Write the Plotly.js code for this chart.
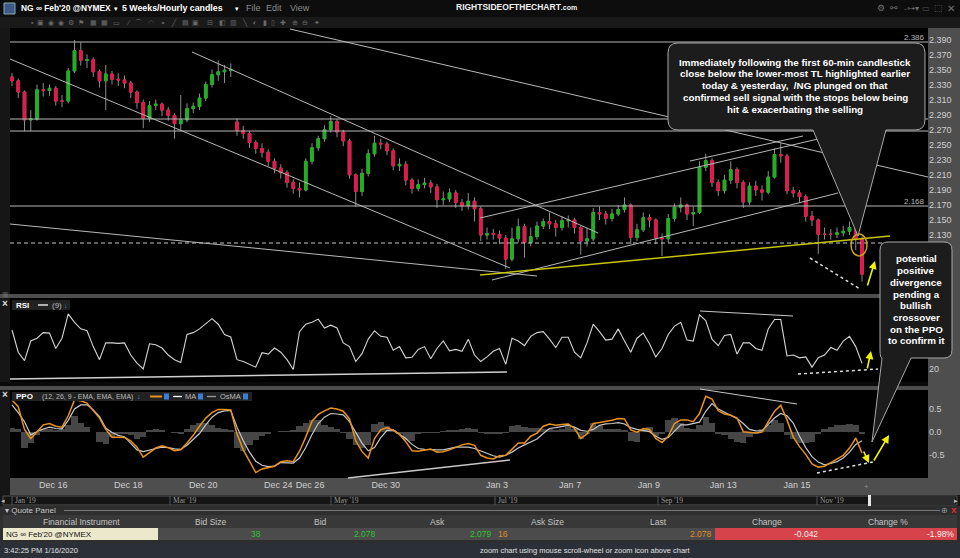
<!DOCTYPE html>
<html>
<head>
<meta charset="utf-8">
<script src="https://cdn.plot.ly/plotly-3.0.1.min.js"></script>
<style>
html,body{margin:0;padding:0;background:#161616;}
#chart{width:960px;height:558px;}
</style>
</head>
<body>
<div id="chart"></div>
<script>
// ---------------- DATA (one 4-hour slot per value) ----------------
const dayLabels = ["Dec 16","Dec 18","Dec 20","Dec 24","Dec 26","Dec 30","Jan 3","Jan 7","Jan 9","Jan 13","Jan 15"];
const dayLabelSlot = [6.6,18.6,30.6,42.6,47.7,59.8,77.6,89.3,101.9,113.8,125.6];
const priceTicks = [2.39,2.37,2.35,2.33,2.31,2.29,2.27,2.25,2.23,2.21,2.19,2.17,2.15,2.13];

const open = [2.340,2.335,2.320,2.283,2.284,2.323,2.322,2.325,2.308,2.308,
2.348,2.375,2.362,2.363,2.347,2.335,2.344,2.337,2.336,2.332,
2.320,2.306,2.285,2.302,2.304,2.296,2.289,2.278,2.283,2.298,
2.301,2.312,2.330,2.343,2.347,2.349,2.280,2.269,2.265,2.253,
2.245,2.240,2.228,2.219,2.213,2.200,2.192,2.190,2.228,2.246,
2.258,2.270,2.281,2.267,2.255,2.210,2.188,2.212,2.238,2.252,
2.251,2.242,2.222,2.224,2.203,2.192,2.197,2.199,2.194,2.177,
2.178,2.186,2.173,2.169,2.175,2.165,2.130,2.132,2.131,2.126,
2.098,2.125,2.141,2.120,2.128,2.142,2.148,2.145,2.140,2.149,
2.150,2.140,2.122,2.125,2.160,2.158,2.152,2.158,2.164,2.170,
2.127,2.137,2.153,2.150,2.126,2.125,2.152,2.167,2.170,2.158,
2.160,2.220,2.229,2.200,2.189,2.203,2.217,2.200,2.174,2.195,
2.190,2.187,2.207,2.237,2.235,2.189,2.186,2.181,2.155,2.150,
2.131,2.131,2.131,2.133,2.135,2.140,2.125];
const high = [2.345,2.338,2.322,2.296,2.330,2.332,2.330,2.328,2.316,2.352,
2.389,2.386,2.370,2.366,2.350,2.356,2.348,2.345,2.342,2.335,
2.322,2.310,2.308,2.310,2.306,2.300,2.292,2.316,2.305,2.306,
2.318,2.334,2.350,2.362,2.356,2.358,2.285,2.275,2.268,2.256,
2.252,2.244,2.232,2.224,2.216,2.204,2.200,2.232,2.252,2.262,
2.276,2.288,2.284,2.270,2.258,2.212,2.218,2.244,2.262,2.258,
2.254,2.245,2.232,2.228,2.206,2.204,2.206,2.203,2.198,2.188,
2.192,2.190,2.178,2.186,2.180,2.168,2.140,2.138,2.136,2.130,
2.140,2.152,2.145,2.140,2.148,2.152,2.160,2.150,2.155,2.156,
2.153,2.142,2.140,2.166,2.168,2.162,2.165,2.170,2.180,2.172,
2.145,2.160,2.158,2.152,2.132,2.158,2.172,2.180,2.172,2.168,
2.228,2.238,2.232,2.204,2.210,2.228,2.220,2.203,2.200,2.202,
2.196,2.215,2.245,2.252,2.238,2.194,2.190,2.184,2.162,2.152,
2.140,2.138,2.140,2.142,2.148,2.146,2.128];
const low = [2.328,2.312,2.268,2.268,2.282,2.314,2.315,2.302,2.300,2.305,
2.345,2.355,2.352,2.340,2.326,2.296,2.330,2.328,2.325,2.312,
2.298,2.272,2.280,2.296,2.288,2.282,2.258,2.270,2.280,2.292,
2.296,2.308,2.326,2.335,2.332,2.340,2.262,2.258,2.246,2.238,
2.233,2.222,2.212,2.205,2.193,2.185,2.180,2.188,2.224,2.242,
2.254,2.266,2.260,2.248,2.205,2.168,2.182,2.208,2.234,2.244,
2.236,2.216,2.215,2.196,2.185,2.188,2.192,2.186,2.166,2.170,
2.174,2.166,2.162,2.164,2.148,2.122,2.124,2.124,2.118,2.085,
2.095,2.120,2.100,2.115,2.124,2.138,2.138,2.128,2.136,2.140,
2.132,2.104,2.115,2.122,2.150,2.144,2.148,2.155,2.160,2.118,
2.122,2.134,2.140,2.118,2.102,2.120,2.148,2.160,2.150,2.142,
2.158,2.215,2.194,2.182,2.185,2.198,2.192,2.166,2.170,2.182,
2.176,2.184,2.205,2.226,2.184,2.180,2.174,2.148,2.142,2.105,
2.124,2.124,2.126,2.128,2.130,2.110,2.068];
const close = [2.335,2.320,2.283,2.284,2.323,2.322,2.325,2.308,2.308,2.348,
2.375,2.362,2.363,2.347,2.335,2.344,2.337,2.336,2.332,2.320,
2.306,2.285,2.302,2.304,2.296,2.289,2.278,2.283,2.298,2.301,
2.312,2.330,2.343,2.347,2.349,2.350,2.269,2.265,2.253,2.245,
2.240,2.228,2.219,2.213,2.200,2.192,2.190,2.228,2.246,2.258,
2.270,2.281,2.267,2.255,2.210,2.188,2.212,2.238,2.252,2.251,
2.242,2.222,2.224,2.203,2.192,2.197,2.199,2.194,2.177,2.178,
2.186,2.173,2.169,2.175,2.165,2.130,2.132,2.131,2.126,2.098,
2.125,2.141,2.120,2.128,2.142,2.148,2.145,2.140,2.149,2.150,
2.140,2.122,2.125,2.160,2.158,2.152,2.158,2.164,2.170,2.127,
2.137,2.153,2.150,2.126,2.125,2.152,2.167,2.170,2.158,2.160,
2.220,2.229,2.200,2.189,2.203,2.217,2.200,2.174,2.195,2.190,
2.187,2.207,2.237,2.235,2.189,2.186,2.181,2.155,2.150,2.131,
2.131,2.131,2.133,2.135,2.140,2.125,2.078];

const rsi = [61.8,38,29,50,53,59,58.5,42,53,79,
70,63,61,44,30,48,48,47.5,48,35,
26.4,20,47,46,42.5,35,30,27,57,59,
63,69,74,68,57,54.3,30,28,25,22,
37.5,36,42.5,38,30,19.5,60,68,70,73.5,
64,67,64,48,44,28,36.5,52,61,55,
54,40,44,32,32.5,41,44,31,42,50,
39.5,41,39,52,35,28,33,39,42,25,
53,50,45,55,59,60,52,43,54,54,
38,32,48,68,60,51,52,63,50,38,
53,58.6,47,33,42,57,66,70,51,50,
78,72,52,45,56,57,36,48,48,42,
40,63,73,73,34,35,32,33,22,32,
35,43,40,50,55,44,26];

const ppo = [0.70,0.55,0.05,-0.15,0.00,0.15,0.18,0.12,0.10,0.35,
0.70,0.68,0.63,0.47,0.30,0.05,-0.12,-0.12,-0.13,-0.20,
-0.34,-0.56,-0.46,-0.36,-0.31,-0.35,-0.42,-0.40,-0.25,-0.08,
0.12,0.30,0.42,0.49,0.49,0.48,-0.05,-0.40,-0.65,-0.90,
-0.82,-0.79,-0.76,-0.66,-0.64,-0.66,-0.43,-0.12,0.23,0.38,
0.46,0.52,0.50,0.45,0.28,-0.20,-0.44,-0.58,-0.15,0.04,
0.09,0.03,-0.06,-0.22,-0.42,-0.43,-0.40,-0.38,-0.45,-0.44,
-0.40,-0.34,-0.29,-0.26,-0.30,-0.52,-0.58,-0.60,-0.53,-0.52,
-0.38,-0.25,-0.25,-0.10,-0.03,0.12,0.17,0.14,0.16,0.17,
0.07,-0.15,-0.05,0.18,0.20,0.22,0.25,0.29,0.28,0.04,
-0.01,0.07,0.05,-0.15,-0.24,-0.10,0.18,0.26,0.26,0.22,
0.40,0.78,0.72,0.46,0.39,0.36,0.30,0.00,-0.02,-0.03,
-0.01,0.22,0.45,0.58,0.26,-0.12,-0.33,-0.50,-0.71,-0.78,
-0.76,-0.68,-0.60,-0.52,-0.36,-0.14,-0.47];
const ppoMA = [0.59,0.42,0.22,-0.07,0.00,0.06,0.10,0.07,0.06,0.25,
0.50,0.59,0.59,0.48,0.33,0.08,-0.02,-0.08,-0.11,-0.25,
-0.40,-0.44,-0.40,-0.37,-0.34,-0.35,-0.38,-0.39,-0.30,-0.18,
-0.04,0.15,0.32,0.42,0.46,0.47,0.10,-0.20,-0.45,-0.65,
-0.74,-0.77,-0.76,-0.68,-0.68,-0.69,-0.58,-0.35,-0.06,0.18,
0.32,0.40,0.39,0.37,0.22,0.00,-0.25,-0.42,-0.35,-0.13,
0.03,0.04,-0.05,-0.15,-0.28,-0.37,-0.39,-0.40,-0.40,-0.40,
-0.37,-0.34,-0.34,-0.34,-0.37,-0.42,-0.48,-0.53,-0.56,-0.52,
-0.45,-0.36,-0.29,-0.22,-0.16,-0.04,0.07,0.09,0.11,0.14,
0.10,0.03,0.01,0.05,0.14,0.17,0.18,0.20,0.17,0.09,
0.05,0.02,0.00,-0.10,-0.17,-0.13,0.00,0.15,0.15,0.18,
0.21,0.45,0.62,0.50,0.43,0.36,0.29,0.18,0.05,0.02,
0.02,0.16,0.30,0.40,0.35,0.19,-0.10,-0.35,-0.55,-0.67,
-0.73,-0.70,-0.66,-0.58,-0.45,-0.28,-0.20];
const osma = [0.08,0.05,-0.36,-0.25,-0.08,0.05,0.05,0.03,0.05,0.15,
0.35,0.20,0.10,0.00,-0.22,-0.28,-0.12,-0.05,-0.04,-0.08,
-0.15,-0.12,0.04,0.05,0.03,0.00,-0.03,-0.05,0.05,0.15,
0.19,0.20,0.15,0.08,0.05,0.04,-0.35,-0.42,-0.30,-0.18,
-0.10,-0.05,0.00,0.02,0.02,0.03,0.12,0.20,0.26,0.25,
0.15,0.10,0.05,-0.02,-0.15,-0.30,-0.36,-0.30,0.18,0.22,
0.12,0.04,-0.05,-0.18,-0.20,-0.05,-0.03,-0.02,-0.03,0.02,
0.03,0.04,0.05,0.08,0.05,-0.03,-0.04,-0.05,-0.04,-0.02,
0.12,0.15,0.10,0.08,0.08,0.07,0.05,0.04,0.06,0.10,
0.06,-0.15,-0.05,0.19,0.12,0.07,0.05,0.06,0.03,-0.20,
-0.22,0.05,0.10,-0.10,-0.05,0.25,0.30,0.20,0.08,0.05,
0.15,0.32,0.20,-0.05,-0.08,-0.15,-0.22,-0.25,-0.12,-0.05,
0.05,0.15,0.26,0.20,-0.08,-0.15,-0.25,-0.26,-0.22,-0.05,
0.05,0.10,0.14,0.15,0.16,0.15,-0.05];

const slot = close.map((_, i) => i);
// body-only extents (for colored bodies drawn over grey wicks)
const bodyTop = open.map((o, i) => Math.max(o, close[i]));
const bodyBot = open.map((o, i) => Math.min(o, close[i]));

// ---------------- helpers (pixel -> paper) ----------------
const W = 960, H = 558;
const px = x => x / W, py = y => 1 - y / H;
const FONT = 'Liberation Sans, Arial, sans-serif';
const shapes = [], annotations = [];
function rect(x0, y0, x1, y1, fill, layer, line) {
  shapes.push({type:'rect', xref:'paper', yref:'paper', x0:px(x0), x1:px(x1), y0:py(y1), y1:py(y0),
    fillcolor:fill, line: line || {width:0}, layer: layer || 'below'});
}
function seg(x0, y0, x1, y1, color, width, dash) {
  shapes.push({type:'line', xref:'paper', yref:'paper', x0:px(x0), y0:py(y0), x1:px(x1), y1:py(y1),
    line:{color:color, width:width || 1, dash:dash || 'solid'}, layer:'above'});
}
function pathPx(cmds, fill, stroke) {
  const d = cmds.map(c => c[0] + (c.length > 1 ? ' ' + c.slice(1).map((v, k) => k % 2 === 0 ? px(v).toFixed(5) : py(v).toFixed(5)).join(' ') : '')).join(' ');
  shapes.push({type:'path', xref:'paper', yref:'paper', path:d, fillcolor:fill, line:{color:stroke, width:1}, layer:'above'});
}
function txt(x, y, text, size, color, anchor, extra) {
  annotations.push(Object.assign({xref:'paper', yref:'paper', x:px(x), y:py(y), text:text, showarrow:false,
    xanchor: anchor || 'left', yanchor:'middle', borderpad:0,
    font:{family:FONT, size:size, color:color}}, extra || {}));
}
function arrow(x0, y0, x1, y1, color) {
  annotations.push({xref:'paper', yref:'paper', x:px(x1), y:py(y1), ax:px(x0), ay:py(y0), axref:'paper', ayref:'paper',
    text:'', showarrow:true, arrowhead:2, arrowsize:1, arrowwidth:1.6, arrowcolor:color});
}

// ---------------- backgrounds ----------------
rect(0, 0, 960, 17, '#0d0d0d');
rect(0, 17, 960, 28, '#191919');
rect(10, 28, 928, 294, '#000000');
rect(0, 294, 960, 298, '#4d4d4d');
rect(10, 298, 928, 382, '#000000');
rect(0, 382, 960, 386, '#0a0a0a');
rect(0, 386, 960, 390, '#4d4d4d');
rect(10, 390, 928, 478, '#000000');
rect(10, 478, 960, 495, '#4e4e4e');
rect(928, 28, 960, 495, '#4e4e4e');
rect(0, 495, 960, 506, '#151515');
rect(3, 496, 957, 505, '#141414', 'below', {color:'#555', width:1});
rect(871, 496, 955, 505, '#2c2c2c');
rect(868, 495, 871, 506, '#e6e6e6');
rect(0, 506, 960, 543, '#2e2e2e');
rect(3, 515, 957, 528, '#383838');
rect(158, 528, 715, 540, '#4b4b4b');
rect(3, 528, 158, 540, '#ebe8cb');
rect(715, 528, 957, 540, '#d6434a');
rect(0, 543, 960, 558, '#2b3038');

// ---------------- trend lines (main panel) ----------------
const TL = '#b8b8b8';
seg(10, 42, 928, 42, TL);
seg(10, 119, 928, 119, TL);
seg(10, 131, 928, 131, TL);
seg(10, 206, 928, 206, TL);
seg(10, 243, 928, 243, '#c8c8c8', 1, '4px,3px');
seg(10, 59, 510, 268, TL);
seg(192, 52, 598, 233, TL);
seg(290, 29, 928, 177, TL);
seg(480, 218, 818, 139, TL);
seg(690, 161, 803, 136, TL);
seg(492, 280, 838, 193, TL);
seg(10, 224, 537, 276, TL);
seg(480, 275, 890, 236, '#c8c400', 1.5);
seg(810, 258, 860, 289, '#dddddd', 1.5, 'dot');
shapes.push({type:'circle', xref:'paper', yref:'paper', x0:px(851), x1:px(867), y0:py(256), y1:py(234),
  line:{color:'#c9a21c', width:1.5}, layer:'above'});

// RSI lines
seg(10, 379, 507, 372, '#d0d0d0', 1.5);
seg(700, 311, 793, 316, '#c8c8c8');
seg(798, 374, 878, 369, '#dddddd', 1.5, 'dot');
// PPO lines
seg(348, 478, 510, 460, '#c8c8c8', 1.3);
seg(700, 389, 797, 404, '#c8c8c8');
seg(817, 473, 873, 462, '#dddddd', 1.5, 'dot');

// yellow arrows
const YEL = '#f2f200';
arrow(867, 287, 875, 261, YEL);
arrow(867, 370, 871, 351, YEL);
arrow(863, 450, 869, 463, YEL);
arrow(873, 462, 889, 435, YEL);

// ---------------- callouts ----------------
pathPx([['M',678,43],['L',915,43],['Q',925,43,925,53],['L',925,120],['Q',925,130,915,130],['L',886,130],['L',858,236],['L',813,130],
  ['L',678,130],['Q',668,130,668,120],['L',668,53],['Q',668,43,678,43],['Z']], '#1c1c1c', '#a8a8a8');
pathPx([['M',888,242],['L',944,242],['Q',952,242,952,250],['L',952,350],['Q',952,358,944,358],['L',911,358],['L',872,442],['L',882,358],
  ['Q',880,358,880,350],['L',880,250],['Q',880,242,888,242],['Z']], '#1c1c1c', '#a8a8a8');

const c1 = ["Immediately following the first 60-min candlestick","close below the lower-most TL highlighted earlier",
  "today &amp; yesterday,  /NG plunged on that","confirmed sell signal with the stops below being","hit &amp; exacerbating the selling"];
const c1y = [62.3, 73.9, 85.3, 97.1, 109.3];
c1.forEach((t, k) => txt(795, c1y[k], '<b>' + t + '</b>', 9.8, '#ffffff', 'center'));
const c2 = ["potential","positive","divergence","pending a","bullish","crossover","on the PPO","to confirm it"];
const c2y = [258.3, 270.5, 282.5, 294.3, 305.8, 317.5, 329.3, 340.8];
c2.forEach((t, k) => txt(916, c2y[k], '<b>' + t + '</b>', 9.8, '#ffffff', 'center'));

// ---------------- chart texts ----------------
txt(926, 37, '2.386', 8, '#b8b8b8', 'right');
txt(926, 201, '2.168', 8, '#b8b8b8', 'right');

// toolbar
rect(4, 3, 15, 14, '#3a5a8a', 'above', {color:'#8aa', width:1});
txt(20, 8.5, '<b>NG ∞ Feb\'20 @NYMEX</b>', 8.4, '#ffffff');
txt(113, 9, '▾', 7, '#ffffff');
txt(121, 8.5, '<b>5 Weeks/Hourly candles</b>', 8.8, '#ffffff');
txt(234, 9, '▾', 7, '#ffffff');
txt(245, 8.5, 'File', 9, '#8c8c8c');
txt(265, 8.5, 'Edit', 9, '#8c8c8c');
txt(289, 8.5, 'View', 9, '#8c8c8c');
txt(455, 6.5, '<b>RIGHTSIDEOFTHECHART</b><b style="font-size:7px">.com</b>', 8.5, '#f0f0f0');
txt(881, 8.5, '⚙', 9, '#707070', 'center');
txt(894, 8.5, '⚯', 9, '#707070', 'center');
txt(911, 8.5, '-⊶▾', 8, '#707070', 'center');
txt(926, 8.5, '▭', 8, '#555555', 'center');
txt(938, 8.5, '⬚', 9, '#707070', 'center');
txt(951, 8.5, '✕', 10, '#707070', 'center');
txt(30, 22.5, '▪  ▣  ◉  ◉  ⚙  ⚑   ▦  ▦   ▭    ⁄   ⌒   ◠   ⚬   ╱   ▤  ▣    ⊟   ◧  ▥   ╲   ◐   ▮  ▯   ✚   ⊕  ⊖   ✦', 7, '#6a6a6a');

// panel legends
txt(5, 294, '▣', 7, '#666666', 'center');
txt(5, 303, '<b>×</b>', 10, '#dddddd', 'center');
rect(12, 300, 70, 310, '#222222', 'above');
txt(15, 305, '<b>RSI</b>', 8, '#ffffff');
seg(38, 305, 48, 305, '#ffffff', 1.3);
txt(51, 305, '(9)', 8, '#bbbbbb');
txt(66, 305, '↓', 7, '#4a90d9', 'center');

txt(5, 394, '<b>×</b>', 10, '#dddddd', 'center');
rect(12, 392, 252, 401, '#222222', 'above');
txt(15, 396.5, '<b>PPO</b>', 8, '#ffffff');
txt(41, 396.5, '(12, 26, 9 - EMA, EMA, EMA)', 7, '#bbbbbb');
txt(139, 396.5, '↓', 7, '#4a90d9', 'center');
seg(150, 396.5, 162, 396.5, '#e8921e', 2);
rect(164, 393.5, 169, 399.5, '#3b7dd8', 'above');
seg(173, 396.5, 182, 396.5, '#ffffff', 1.3);
txt(184, 396.5, 'MA', 7.5, '#bbbbbb');
rect(198, 393.5, 203, 399.5, '#3b7dd8', 'above');
seg(207, 396.5, 216, 396.5, '#9a9a9a', 1.3);
txt(219, 396.5, 'OsMA', 7.5, '#bbbbbb');
rect(243, 393.5, 248, 399.5, '#3b7dd8', 'above');
txt(866, 486, '+', 8, '#888888', 'center');

// navigator
const navLabels = ["Jan '19","Mar '19","May '19","Jul '19","Sep '19","Nov '19"];
const navX = [12, 170, 331, 495, 658, 817];
navLabels.forEach((t, k) => {
  txt(navX[k] + 2, 500.5, t, 7.5, '#9a9a9a', 'left', {font:{family:'Liberation Serif, Times New Roman, serif', size:7.5, color:'#9a9a9a'}});
  seg(navX[k], 496, navX[k], 505, '#555555', 1);
});
txt(3, 500.5, '◂', 7, '#bbbbbb', 'center');
txt(956, 500.5, '▸', 7, '#bbbbbb', 'center');

// quote panel
txt(4, 510.5, '▾ Quote Panel', 8, '#c8c8c8');
seg(64, 510.5, 940, 510.5, '#777777', 1.2);
txt(944, 510.5, '⊕', 8, '#999999', 'center');
txt(954, 510.5, '<b>X</b>', 8, '#e03030', 'center');
const qHead = ["Financial Instrument","Bid Size","Bid","Ask","Ask Size","Last","Change","Change %"];
const qHeadX = [81, 210, 320, 437, 547, 658, 767, 888];
qHead.forEach((t, k) => txt(qHeadX[k], 521.5, t, 8.5, '#c4c4c4', 'center'));
txt(5, 534, 'NG ∞ Feb\'20 @NYMEX', 8, '#111111');
txt(262, 534, '38', 8.5, '#2fc22f', 'right');
txt(377, 534, '2.078', 8.5, '#2fc22f', 'right');
txt(493, 534, '2.079', 8.5, '#2fc22f', 'right');
txt(497, 534, '16', 8.5, '#e08a2a', 'left');
txt(713, 534, '2.078', 8.5, '#e08a2a', 'right');
txt(819, 534, '-0.042', 8.5, '#f4f0f0', 'right');
txt(955, 534, '-1.98%', 8.5, '#f4f0f0', 'right');
txt(3, 550.5, '3:42:25 PM 1/16/2020', 7.5, '#e0e0e0');
txt(585, 550.5, 'zoom chart using mouse scroll-wheel or zoom icon above chart', 7.5, '#e0e0e0', 'center');

// ---------------- traces ----------------
const traces = [
  // grey wicks
  {type:'candlestick', x:slot, open:open, high:high, low:low, close:close, xaxis:'x', yaxis:'y',
   increasing:{line:{color:'#8c8c8c', width:1}, fillcolor:'#8c8c8c'},
   decreasing:{line:{color:'#8c8c8c', width:1}, fillcolor:'#8c8c8c'},
   whiskerwidth:0, hoverinfo:'skip', showlegend:false},
  // coloured bodies
  {type:'candlestick', x:slot, open:open, high:bodyTop, low:bodyBot, close:close, xaxis:'x', yaxis:'y',
   increasing:{line:{color:'#1fb01f', width:1}, fillcolor:'#1fb01f'},
   decreasing:{line:{color:'#e3184a', width:1}, fillcolor:'#e3184a'},
   whiskerwidth:0, hoverinfo:'skip', showlegend:false},
  {type:'scatter', mode:'lines', x:slot, y:rsi, xaxis:'x2', yaxis:'y2',
   line:{color:'#d4d4d4', width:1.1}, hoverinfo:'skip', showlegend:false},
  {type:'bar', x:slot, y:osma, xaxis:'x3', yaxis:'y3', width:1,
   marker:{color:'#464646', line:{width:0}}, hoverinfo:'skip', showlegend:false},
  {type:'scatter', mode:'lines', x:slot, y:ppoMA, xaxis:'x3', yaxis:'y3',
   line:{color:'#c8c8c8', width:1.2}, hoverinfo:'skip', showlegend:false},
  {type:'scatter', mode:'lines', x:slot, y:ppo, xaxis:'x3', yaxis:'y3',
   line:{color:'#e8921e', width:1.5}, hoverinfo:'skip', showlegend:false}
];

const tickFont = {family:FONT, size:9, color:'#cfcfcf'};
const xBase = {domain:[px(10), px(928)], range:[-0.32, 146.56], showgrid:false, zeroline:false, showline:false,
  ticks:'', fixedrange:true};
const yBase = {side:'right', showgrid:false, zeroline:false, showline:false, ticks:'', tickfont:tickFont, fixedrange:true};

const layout = {
  width:W, height:H, margin:{l:0, r:0, t:0, b:0},
  paper_bgcolor:'#161616', plot_bgcolor:'rgba(0,0,0,0)',
  showlegend:false, hovermode:false, bargap:0, boxgap:0.4,
  xaxis:Object.assign({}, xBase, {anchor:'y', showticklabels:false, rangeslider:{visible:false}}),
  xaxis2:Object.assign({}, xBase, {anchor:'y2', matches:'x', showticklabels:false}),
  xaxis3:Object.assign({}, xBase, {anchor:'y3', matches:'x', tickmode:'array', tickvals:dayLabelSlot, ticktext:dayLabels, tickfont:tickFont}),
  yaxis:Object.assign({}, yBase, {anchor:'x', domain:[py(294), py(28)], range:[2.0517, 2.4051], tickmode:'array', tickvals:priceTicks, tickformat:'.3f'}),
  yaxis2:Object.assign({}, yBase, {anchor:'x2', domain:[py(382), py(298)], range:[6.07, 96.1], tickmode:'array', tickvals:[20], ticktext:['20']}),
  yaxis3:Object.assign({}, yBase, {anchor:'x3', domain:[py(478), py(390)], range:[-1.02, 0.918], tickmode:'array', tickvals:[-0.5, 0, 0.5], ticktext:['-0.5','0.0','0.5']}),
  shapes:shapes, annotations:annotations
};

Plotly.newPlot('chart', traces, layout, {staticPlot:true, displayModeBar:false});
</script>
</body>
</html>
